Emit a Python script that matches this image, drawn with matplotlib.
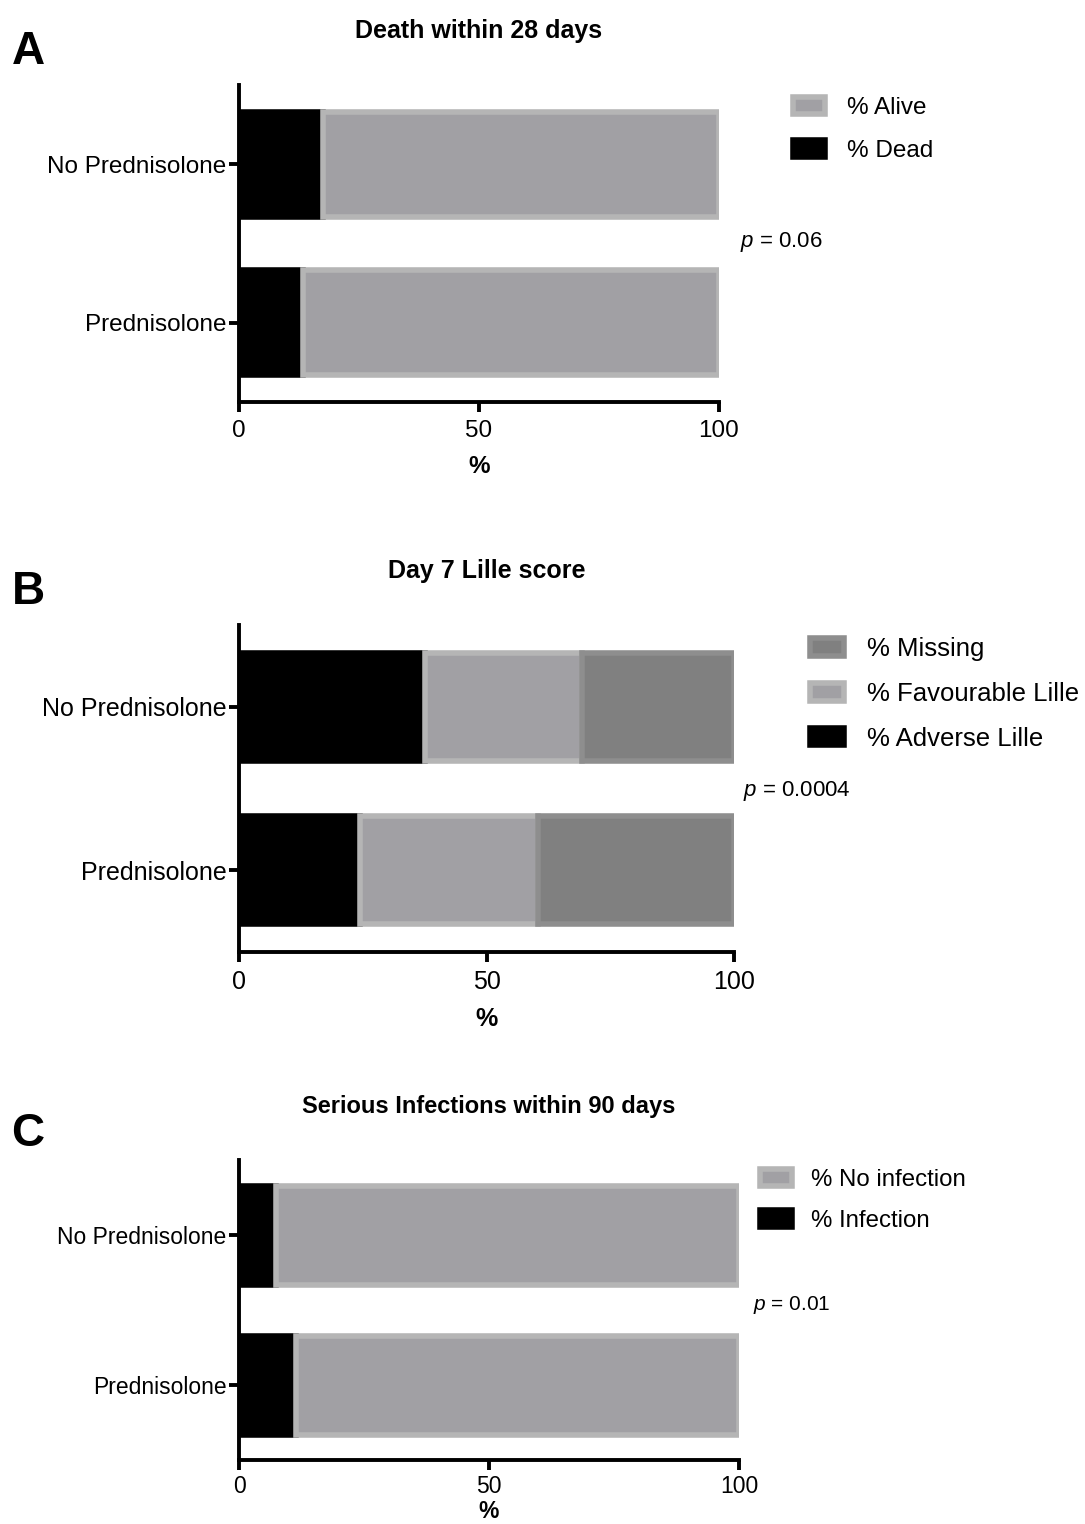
import numpy as np
import matplotlib.pyplot as plt
from matplotlib.patches import Patch

plt.rcParams['font.family'] = ['Liberation Sans', 'DejaVu Sans']
plt.rcParams['mathtext.fontset'] = 'custom'
plt.rcParams['mathtext.rm'] = 'Liberation Sans'
plt.rcParams['mathtext.it'] = 'Liberation Sans:italic'

# groups from bottom to top
groups = ['Prednisolone', 'No Prednisolone']

# A - death within 28 days (%)
dead = [13.3, 17.5]
alive = [86.7, 82.5]

# B - day 7 Lille score (%)
adverse = [24.4, 37.6]
favourable = [36.0, 31.7]
missing = [39.6, 30.7]

# C - serious infection within 90 days (%)
infection = [11.4, 7.4]
no_infection = [88.6, 92.6]

xticks = [0, 50, 100]

BLACK = '#000000'
GREY = '#a1a0a4'
GREY_EDGE = '#b5b5b5'
DARK = '#808080'
DARK_EDGE = '#8e8e8e'
LW = 4.0
H = 0.66

W, Hpx = 1085, 1524
fig = plt.figure(figsize=(W / 100, Hpx / 100), dpi=100)


def px_rect(left, right, top, bottom):
    return [left / W, 1 - bottom / Hpx, (right - left) / W, (bottom - top) / Hpx]


def style_axis(ax, fs, lpad=9, tpad=6):
    ax.set_xlim(0, 100)
    ax.set_ylim(-0.5, 1.5)
    ax.set_yticks(range(len(groups)))
    ax.set_yticklabels(groups, fontsize=fs)
    ax.set_xticks(xticks)
    ax.set_xticklabels([str(t) for t in xticks], fontsize=fs)
    for s in ['top', 'right']:
        ax.spines[s].set_visible(False)
    for s in ['left', 'bottom']:
        ax.spines[s].set_linewidth(2.8)
    ax.tick_params(axis='y', length=7, width=2.8, pad=2)
    ax.tick_params(axis='x', length=7, width=2.8, pad=tpad)
    ax.set_xlabel('%', fontsize=fs, fontweight='bold', labelpad=lpad)


def draw_stack(ax, series):
    # series: list of (values, face, edge, label), left to right
    y = np.arange(len(groups))
    left = np.zeros(len(groups))
    handles = []
    for vals, face, edge, lab in series:
        ax.barh(y, vals, left=left, height=H, color=face, edgecolor=edge, linewidth=LW)
        left = left + np.array(vals)
        handles.append(Patch(facecolor=face, edgecolor=edge, linewidth=LW, label=lab))
    return handles[::-1]


def add_legend(ax, handles, x, ytop, fs, spacing, hl, hh, pad):
    ax.legend(handles=handles, loc='upper left', bbox_to_anchor=(x / W, 1 - ytop / Hpx),
              bbox_transform=fig.transFigure, frameon=False, fontsize=fs,
              borderpad=0, borderaxespad=0, labelspacing=spacing,
              handlelength=hl, handleheight=hh, handletextpad=pad)


# ---- A
axA = fig.add_axes(px_rect(239, 719, 85, 402))
hA = draw_stack(axA, [(dead, BLACK, BLACK, '% Dead'),
                      (alive, GREY, GREY_EDGE, '% Alive')])
style_axis(axA, 17.5)
axA.set_title('Death within 28 days', fontsize=18, fontweight='bold', pad=34)
add_legend(axA, hA, 793, 97, 17.5, 0.86, 1.33, 0.72, 0.9)
fig.text(740 / W, 1 - 242 / Hpx, r'$\mathit{p}$ = 0.06', fontsize=16, ha='left', va='center')
fig.text(28 / W, 1 - 52 / Hpx, 'A', fontsize=33, fontweight='bold', ha='center', va='center')

# ---- B
axB = fig.add_axes(px_rect(239, 734, 625, 952))
hB = draw_stack(axB, [(adverse, BLACK, BLACK, '% Adverse Lille'),
                      (favourable, GREY, GREY_EDGE, '% Favourable Lille'),
                      (missing, DARK, DARK_EDGE, '% Missing')])
style_axis(axB, 18)
axB.set_title('Day 7 Lille score', fontsize=18, fontweight='bold', pad=34)
add_legend(axB, hB, 810, 637, 18.5, 0.81, 1.34, 0.68, 0.86)
fig.text(743 / W, 1 - 791 / Hpx, r'$\mathit{p}$ = 0.0004', fontsize=16, ha='left', va='center')
fig.text(28 / W, 1 - 592 / Hpx, 'B', fontsize=33, fontweight='bold', ha='center', va='center')

# ---- C
axC = fig.add_axes(px_rect(239, 739, 1160, 1460))
hC = draw_stack(axC, [(infection, BLACK, BLACK, '% Infection'),
                      (no_infection, GREY, GREY_EDGE, '% No infection')])
style_axis(axC, 16.5, lpad=1, tpad=4)
axC.set_title('Serious Infections within 90 days', fontsize=17, fontweight='bold', pad=34)
add_legend(axC, hC, 760, 1169, 17.3, 0.8, 1.35, 0.72, 0.79)
fig.text(753 / W, 1 - 1305 / Hpx, r'$\mathit{p}$ = 0.01', fontsize=15, ha='left', va='center')
fig.text(28 / W, 1 - 1134 / Hpx, 'C', fontsize=33, fontweight='bold', ha='center', va='center')

plt.savefig('out.png', dpi=100)
